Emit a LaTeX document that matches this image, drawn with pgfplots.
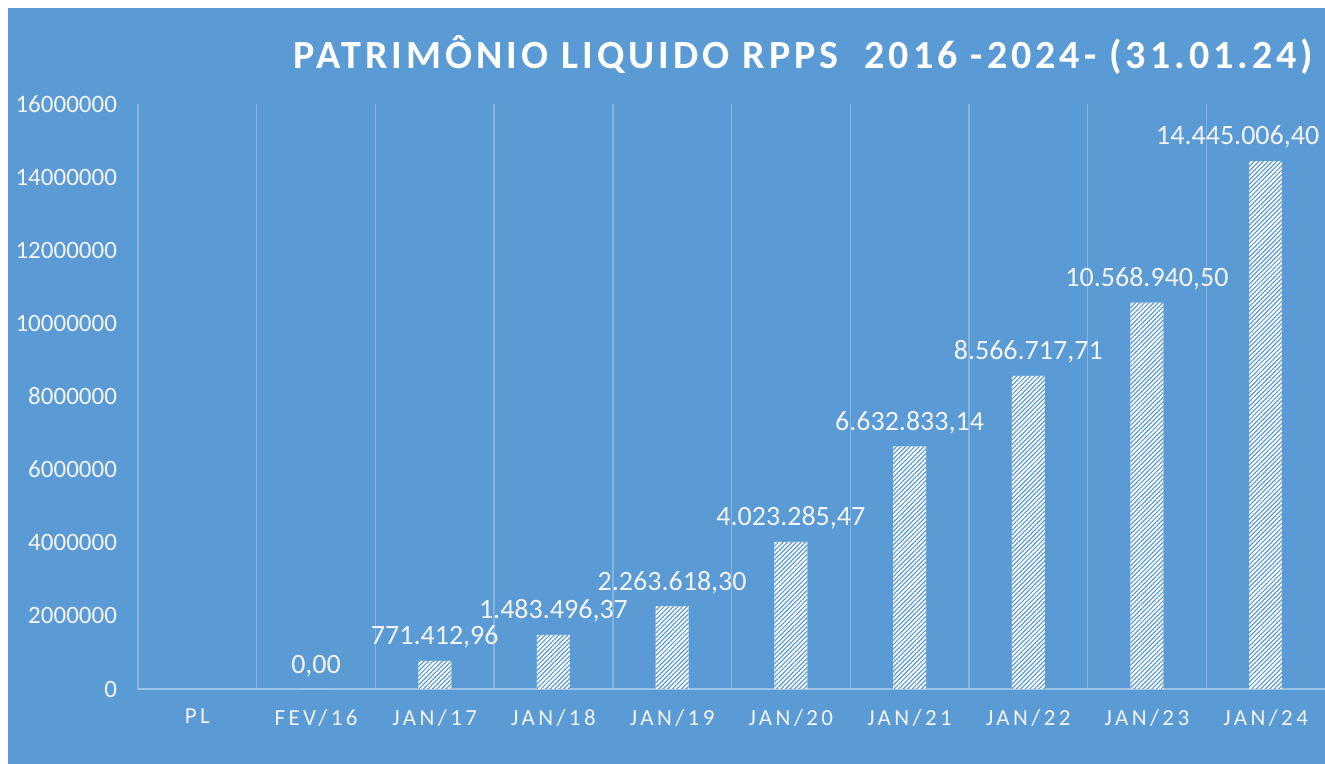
\documentclass[border=0pt]{standalone}
\usepackage{fontspec}
\setmainfont{Carlito}
\newfontfamily\spacedfont[LetterSpace=15]{Carlito}
\newfontfamily\titlefont[LetterSpace=10]{Carlito}
\usepackage{pgfplots}
\pgfplotsset{compat=1.18}
\usetikzlibrary{patterns.meta}
\definecolor{bgblue}{HTML}{5B9BD5}
\definecolor{txt}{HTML}{F4F4F4}
\colorlet{gridc}{white!25!bgblue}
\colorlet{axisc}{white!40!bgblue}
\tikzdeclarepattern{
  name=denseNE,
  type=uncolored,
  tile size={(1.6pt,1.6pt)},
  tile transformation={rotate=45},
  bounding box={(0pt,-0.35pt) and (1.6pt,0.35pt)},
  code={\draw[line width=0.6pt] (-0.1pt,0pt) -- (1.7pt,0pt);}
}
\pgfplotstableread{
x y lab
1 0 {0,00}
2 771412.96 {771.412,96}
3 1483496.37 {1.483.496,37}
4 2263618.30 {2.263.618,30}
5 4023285.47 {4.023.285,47}
6 6632833.14 {6.632.833,14}
7 8566717.71 {8.566.717,71}
8 10568940.50 {10.568.940,50}
}\datatable
\pgfplotstableread{
x y lab
9 14445006.40 {14.445.006,40}
}\lasttable
\begin{document}
\begin{tikzpicture}
\fill[white] (0,0) rectangle (662.5pt,382pt);
\fill[bgblue] (4pt,0) rectangle (662.5pt,378pt);
\node[text=white, font=\titlefont\bfseries\fontsize{20pt}{20pt}\selectfont] at (401.75pt,354.5pt) {PATRIMÔNIO LIQUIDO RPPS\ \ 2016 -2024- (31.01.24)};
\begin{axis}[
  at={(69pt,37.5pt)}, anchor=south west,
  width=593.5pt, height=292.5pt, scale only axis,
  xmin=-0.5, xmax=9.5, ymin=0, ymax=16000000,
  axis lines*=left,
  x axis line style={draw=axisc, line width=0.8pt, -},
  y axis line style={draw=none},
  xtick={0,1,2,3,4,5,6,7,8,9},
  xticklabels={PL,FEV/16,JAN/17,JAN/18,JAN/19,JAN/20,JAN/21,JAN/22,JAN/23,JAN/24},
  ytick={0,2000000,4000000,6000000,8000000,10000000,12000000,14000000,16000000},
  scaled y ticks=false,
  yticklabel style={/pgf/number format/fixed, /pgf/number format/1000 sep={}, /pgf/number format/assume math mode=true, font=\fontsize{12.5pt}{12.5pt}\selectfont, text=txt, xshift=-7pt},
  xticklabel style={font=\spacedfont\fontsize{11.5pt}{11.5pt}\selectfont, text=txt, yshift=-6.5pt},
  major tick length=0pt, minor tick length=0pt,
  tick style={draw=none},
  minor xtick={-0.5,0.5,1.5,2.5,3.5,4.5,5.5,6.5,7.5,8.5},
  xminorgrids,
  minor grid style={draw=gridc, line width=0.7pt},
  clip=false,
  barstyle/.style={ybar, bar width=16.5pt, draw=none, fill=white,
    postaction={pattern=denseNE, pattern color=bgblue},
    nodes near coords, point meta=explicit symbolic},
]
\addplot[barstyle,
  every node near coord/.style={anchor=south, inner sep=0pt, yshift=6pt, text=txt, font=\fontsize{14pt}{14pt}\selectfont}
] table[x=x, y=y, meta=lab] {\datatable};
\addplot[barstyle,
  every node near coord/.style={anchor=south, inner sep=0pt, yshift=6pt, xshift=-14pt, text=txt, font=\fontsize{14pt}{14pt}\selectfont}
] table[x=x, y=y, meta=lab] {\lasttable};
\end{axis}
\pgfresetboundingbox
\path (0,0) rectangle (662.5pt,382pt);
\end{tikzpicture}
\end{document}
